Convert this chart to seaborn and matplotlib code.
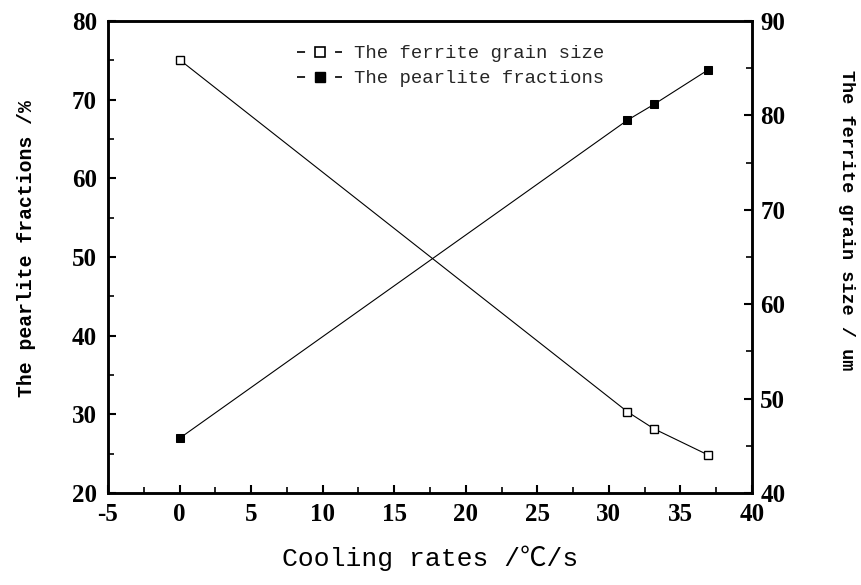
import matplotlib
matplotlib.use("Agg")
import matplotlib.pyplot as plt
import seaborn as sns
import pandas as pd
from matplotlib.ticker import MultipleLocator
from matplotlib.lines import Line2D

# Data
cooling_rates = [0.0, 31.3, 33.15, 36.9]
pearlite_fraction = [26.95, 67.4, 69.4, 73.75]     # left axis, %
ferrite_grain_size = [85.9, 48.6, 46.8, 44.05]     # right axis, um

x_ticks = [-5, 0, 5, 10, 15, 20, 25, 30, 35, 40]
left_ticks = [20, 30, 40, 50, 60, 70, 80]
right_ticks = [40, 50, 60, 70, 80, 90]

sns.set_theme(style="white")
plt.rcParams['font.family'] = ['Liberation Serif', 'DejaVu Serif']
plt.rcParams['lines.scale_dashes'] = False

fig = plt.figure(figsize=(8.61, 5.85), dpi=100)
ax = fig.add_axes([0.1254, 0.1573, 0.748, 0.8068])
ax2 = ax.twinx()

df_p = pd.DataFrame({"x": cooling_rates, "y": pearlite_fraction})
df_f = pd.DataFrame({"x": cooling_rates, "y": ferrite_grain_size})

sns.lineplot(data=df_p, x="x", y="y", ax=ax, color="black", lw=0.8,
             marker="s", markersize=5.5, markerfacecolor="black",
             markeredgecolor="black", legend=False)
sns.lineplot(data=df_f, x="x", y="y", ax=ax2, color="black", lw=0.8,
             marker="s", markersize=5.5, markerfacecolor="white",
             markeredgecolor="black", markeredgewidth=1.0, legend=False)

ax.set_xlim(-5, 40)
ax.set_ylim(20, 80)
ax2.set_ylim(40, 90)
ax.set_xticks(x_ticks)
ax.set_yticks(left_ticks)
ax2.set_yticks(right_ticks)
ax.xaxis.set_minor_locator(MultipleLocator(2.5))
ax.yaxis.set_minor_locator(MultipleLocator(5))
ax2.yaxis.set_minor_locator(MultipleLocator(5))

tick_font = dict(family='Liberation Serif', weight='bold', size=18)
ax.set_xticklabels([str(t) for t in x_ticks], fontdict=tick_font)
ax.set_yticklabels([str(t) for t in left_ticks], fontdict=tick_font)
ax2.set_yticklabels([str(t) for t in right_ticks], fontdict=tick_font)

for a in (ax, ax2):
    for s in a.spines.values():
        s.set_color("black")
        s.set_linewidth(1.8)
    a.grid(False)

ax.tick_params(axis='x', which='both', direction='in', top=False, bottom=True,
               colors='black', pad=7)
ax.tick_params(axis='x', which='major', length=6, width=1.5)
ax.tick_params(axis='x', which='minor', length=4, width=1.2)
ax.tick_params(axis='y', which='both', direction='in', left=True, right=False,
               colors='black', pad=8)
ax.tick_params(axis='y', which='major', length=6, width=1.5)
ax.tick_params(axis='y', which='minor', length=4, width=1.2)
ax2.tick_params(axis='y', which='both', direction='in', right=True, left=False,
                colors='black', pad=6)
ax2.tick_params(axis='y', which='major', length=6, width=1.5)
ax2.tick_params(axis='y', which='minor', length=4, width=1.2)

ax.set_xlabel("Cooling rates /℃/s", family=['Liberation Mono', 'Noto Sans CJK SC'],
              fontsize=19, labelpad=14, color='black')
ax.set_ylabel("The pearlite fractions /%", family=['Liberation Mono', 'DejaVu Sans Mono'],
              fontsize=14.2, fontweight='bold', color='black')
ax2.set_ylabel("The ferrite grain size / um", family=['Liberation Mono', 'DejaVu Sans Mono'],
               fontsize=13.3, fontweight='bold', rotation=270, color='black')
ax.yaxis.set_label_coords(-0.127, 0.517)
ax.yaxis.label.set_va('center')
ax.yaxis.label.set_ha('center')
ax2.yaxis.set_label_coords(1.1475, 0.578)
ax2.yaxis.label.set_va('center')
ax2.yaxis.label.set_ha('center')

handles = [
    Line2D([], [], color='black', lw=1.2, dashes=(5.8, 21.6), marker='s',
           markersize=7.5, markerfacecolor='white', markeredgecolor='black',
           markeredgewidth=1.2),
    Line2D([], [], color='black', lw=1.2, dashes=(5.8, 21.6), marker='s',
           markersize=7.5, markerfacecolor='black', markeredgecolor='black'),
]
labels = ["The ferrite grain size", "The pearlite fractions"]
leg = ax2.legend(handles, labels, loc='upper left', bbox_to_anchor=(0.2935, 0.949),
                 frameon=False, prop=dict(family='Liberation Mono', size=13.6),
                 handlelength=2.4, handletextpad=0.63, labelspacing=0.42,
                 borderaxespad=0, borderpad=0)

fig.savefig("out.png", dpi=100)
